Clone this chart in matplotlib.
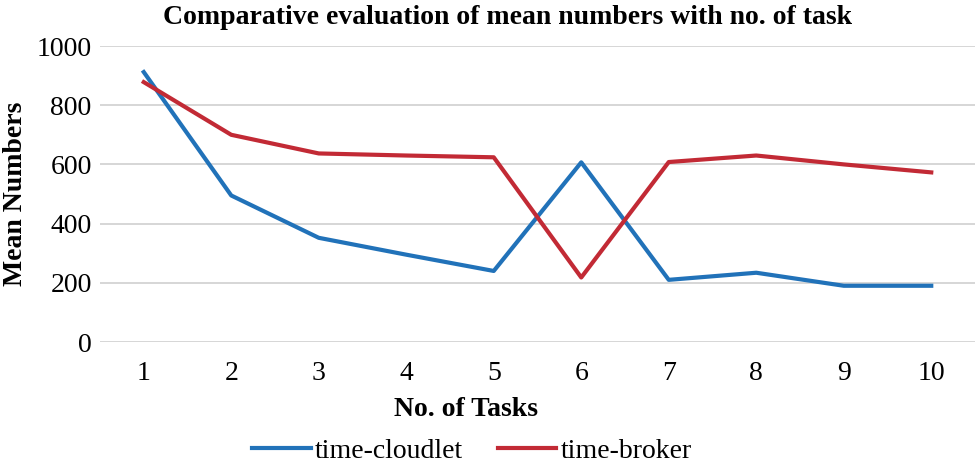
import matplotlib.pyplot as plt

tasks = [1, 2, 3, 4, 5, 6, 7, 8, 9, 10]
time_cloudlet = [912, 495, 352, 295, 240, 607, 210, 234, 190, 190]
time_broker = [878, 700, 637, 630, 624, 218, 608, 630, 600, 573]

plt.rcParams['font.family'] = ['Liberation Serif', 'DejaVu Serif']

W, H = 980, 465
fig = plt.figure(figsize=(9.8, 4.65), dpi=100)
ax = fig.add_axes([100 / W, 1 - 342 / H, 875 / W, 296 / H])

ax.plot(tasks, time_cloudlet, color="#2172b9", lw=3, label="time-cloudlet")
ax.plot(tasks, time_broker, color="#c22a35", lw=3, label="time-broker")

ax.set_xlim(0.5, 10.5)
ax.set_ylim(0, 1000)
ax.set_yticks(range(0, 1001, 200))
ax.set_xticks(tasks)
ax.grid(axis="y", color="#d0d0d0", lw=1.2)
ax.set_axisbelow(True)
for s in ax.spines.values():
    s.set_visible(False)
ax.tick_params(length=0, labelsize=20, pad=6)
ax.tick_params(axis="x", pad=14)

# title and x label are off-centre in the original
fig.text(508 / W, 1 - 18 / H, "Comparative evaluation of mean numbers with no. of task",
         fontsize=20, fontweight="bold", ha="center", va="center")
fig.text(466 / W, 1 - 409 / H, "No. of Tasks",
         fontsize=20, fontweight="bold", ha="center", va="center")
ax.set_ylabel("Mean Numbers", fontsize=20, fontweight="bold", labelpad=6)

fig.legend(loc="center", bbox_to_anchor=(472 / W, 1 - 451 / H), ncol=2,
           frameon=False, fontsize=20, handlelength=2.1, handletextpad=0.15,
           columnspacing=1.25, borderpad=0, borderaxespad=0)

fig.savefig("out.png", dpi=100)
